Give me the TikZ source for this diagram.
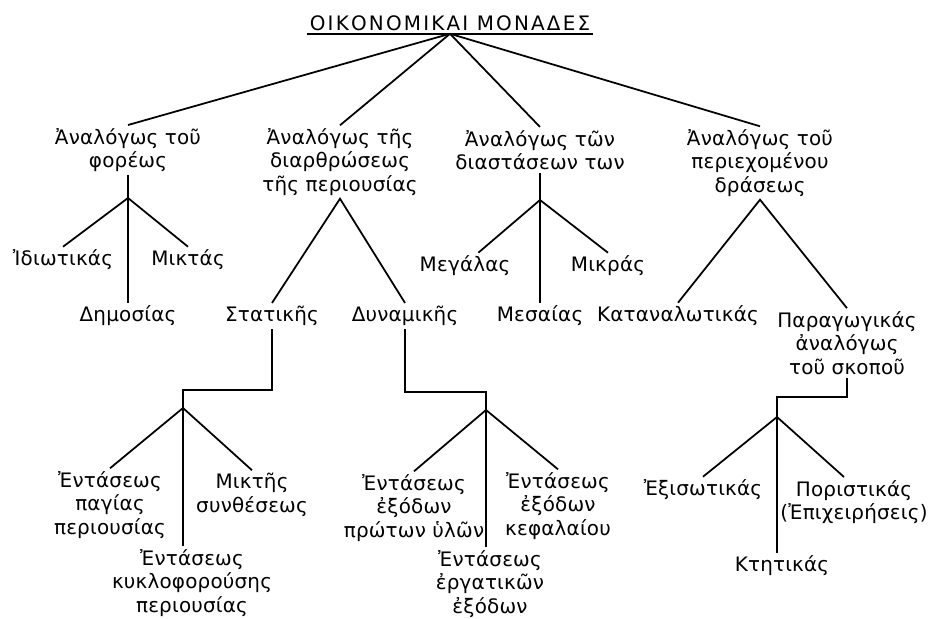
\documentclass[tikz,border=0pt]{standalone}
\usepackage{fontspec}
\setmainfont{DejaVu Sans}[LetterSpace=1]
\begin{document}
\begin{tikzpicture}[x=0.03cm,y=-0.03cm,line width=1.5pt,
  txt/.style={align=center, inner sep=2pt, font=\fontsize{17}{20}\selectfont}]
\useasboundingbox (0,0) rectangle (928,619);
\node[txt,font=\fontsize{17}{20}\selectfont\addfontfeature{LetterSpace=11}] (t) at (450,23) {ΟΙΚΟΝΟΜΙΚΑΙ ΜΟΝΑΔΕΣ};
\draw (t.south west) -- (t.south east);
\node[txt] (a1) at (128,150) {Ἀναλόγως τοῦ\\φορέως};
\node[txt] (a2) at (340,162) {Ἀναλόγως τῆς\\διαρθρώσεως\\τῆς περιουσίας};
\node[txt] (a3) at (540,150) {Ἀναλόγως τῶν\\διαστάσεων των};
\node[txt] (a4) at (760,163) {Ἀναλόγως τοῦ\\περιεχομένου\\δράσεως};
\draw (t.south) -- (a1.north);
\draw (t.south) -- (a2.north);
\draw (t.south) -- (a3.north);
\draw (t.south) -- (a4.north);
% φορέως
\node[txt] (b1) at (63,260) {Ἰδιωτικάς};
\node[txt] (b2) at (188,260) {Μικτάς};
\node[txt] (b3) at (128,316) {Δημοσίας};
\coordinate (fb) at (128,198);
\draw (a1.south) -- (fb);
\draw (fb) -- (b1.north);
\draw (fb) -- (b2.north);
\draw (fb) -- (fb |- b3.north);
% περιουσία
\node[txt] (c1) at (272,316) {Στατικῆς};
\node[txt] (c2) at (405,316) {Δυναμικῆς};
\draw (c1.north) -- (a2.south) -- (c2.north);
% διαστάσεις
\node[txt] (d1) at (465,266) {Μεγάλας};
\node[txt] (d2) at (608,266) {Μικράς};
\node[txt] (d3) at (540,316) {Μεσαίας};
\coordinate (fd) at (540,200);
\draw (a3.south) -- (fd);
\draw (fd) -- ([xshift=0.4cm]d1.north);
\draw (fd) -- (d2.north);
\draw (fd) -- (fd |- d3.north);
% δράσις
\node[txt] (e1) at (678,316) {Καταναλωτικάς};
\node[txt] (e2) at (847,343) {Παραγωγικάς\\ἀναλόγως\\τοῦ σκοποῦ};
\draw (e1.north) -- (a4.south) -- (e2.north);
% Στατικῆς
\node[txt] (g1) at (110,505) {Ἐντάσεως\\παγίας\\περιουσίας};
\node[txt] (g2) at (252,495) {Μικτῆς\\συνθέσεως};
\node[txt] (g3) at (192,583) {Ἐντάσεως\\κυκλοφορούσης\\περιουσίας};
\coordinate (cg) at (183,390);
\coordinate (fg) at (183,408);
\draw (c1.south) |- (cg) -- (fg);
\draw (fg) -- (g1.north);
\draw (fg) -- (g2.north);
\draw (fg) -- (fg |- g3.north);
% Δυναμικῆς
\node[txt] (h1) at (414,508) {Ἐντάσεως\\ἐξόδων\\πρώτων ὑλῶν};
\node[txt] (h2) at (558,506) {Ἐντάσεως\\ἐξόδων\\κεφαλαίου};
\node[txt] (h3) at (490,584) {Ἐντάσεως\\ἐργατικῶν\\ἐξόδων};
\coordinate (ch) at (486,392);
\coordinate (fh) at (486,410);
\draw (c2.south) |- (ch) -- (fh);
\draw (fh) -- (h1.north);
\draw (fh) -- (h2.north);
\draw (fh) -- (fh |- h3.north);
% Παραγωγικάς
\node[txt] (k1) at (703,490) {Ἐξισωτικάς};
\node[txt] (k2) at (854,502) {Ποριστικάς\\(Ἐπιχειρήσεις)};
\node[txt] (k3) at (782,566) {Κτητικάς};
\coordinate (ck) at (777,397);
\coordinate (fk) at (777,417);
\draw (e2.south) |- (ck) -- (fk);
\draw (fk) -- (k1.north);
\draw (fk) -- ([xshift=-0.3cm]k2.north);
\draw (fk) -- (fk |- k3.north);
\end{tikzpicture}
\end{document}
